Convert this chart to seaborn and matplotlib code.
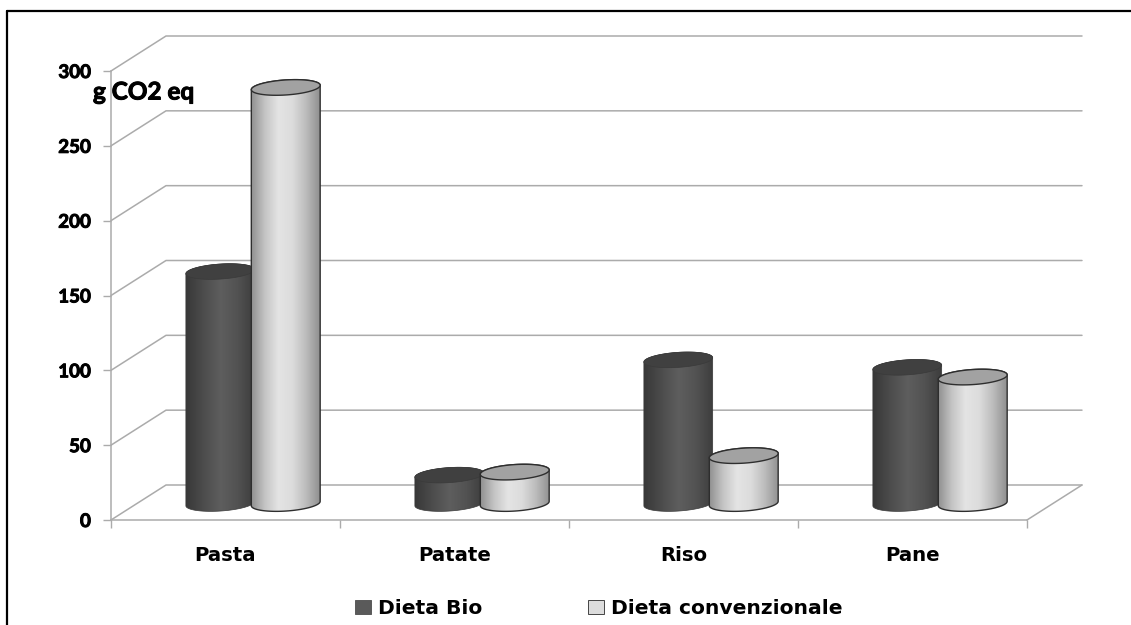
import numpy as np
import pandas as pd
import matplotlib
matplotlib.use("Agg")
import matplotlib.pyplot as plt
import matplotlib.patheffects as pe
from matplotlib.colors import LinearSegmentedColormap
from matplotlib.lines import Line2D
from matplotlib.patches import PathPatch
from matplotlib.path import Path
import seaborn as sns

foods = ["Pasta", "Patate", "Riso", "Pane"]
diet_bio = [155, 19, 96, 91]
diet_conv = [278, 21, 32, 84.5]
diet_names = ["Dieta Bio", "Dieta convenzionale"]
y_ticks = [0, 50, 100, 150, 200, 250, 300]

W, H = 1131, 625
PX_LEFT, PX_RIGHT = 111, 1027
PX_Y0, PX_Y300 = 520, 71
DEPTH_X, DEPTH_Y = 55, 35
SX = (PX_RIGHT - PX_LEFT) / 4
SY = (PX_Y0 - PX_Y300) / 300

sns.set_theme(style="white")
plt.rcParams["font.family"] = ["Lato", "DejaVu Sans"]

# Lato renders light at these sizes, so its labels get a thin outline for weight
HEAVY = [pe.withStroke(linewidth=0.7, foreground="black")]

fig = plt.figure(figsize=(W / 100, H / 100), dpi=100, facecolor="white")
ax = fig.add_axes([PX_LEFT / W, 1 - PX_Y0 / H,
                   (PX_RIGHT - PX_LEFT) / W, (PX_Y0 - PX_Y300) / H])
ax.patch.set_alpha(0)

df = pd.DataFrame({
    "Alimento": foods * 2,
    "g": diet_bio + diet_conv,
    "Dieta": [diet_names[0]] * 4 + [diet_names[1]] * 4,
})
sns.barplot(data=df, x="Alimento", y="g", hue="Dieta", order=foods,
            hue_order=diet_names, palette=["#5a5a5a", "#dcdcdc"],
            width=0.572, gap=0, saturation=1, ax=ax)

ax.set_xlim(-0.5, 3.5)
ax.set_ylim(0, 300)
ax.set_xlabel("")
ax.set_ylabel("")

# Perspective box: back wall lines, side lines and the floor edge
GRID = "#ababab"
ddx, ddy = DEPTH_X / SX, DEPTH_Y / SY
for v in y_ticks:
    ax.plot([-0.5, -0.5 + ddx, 3.5 + ddx], [v, v + ddy, v + ddy],
            color=GRID, lw=1.1, clip_on=False, zorder=1)
ax.plot([3.5, 3.5 + ddx], [0, ddy], color=GRID, lw=1.1, clip_on=False, zorder=1)

for side in ("top", "right"):
    ax.spines[side].set_visible(False)
for side in ("left", "bottom"):
    ax.spines[side].set_color(GRID)
    ax.spines[side].set_linewidth(1.1)

ax.set_yticks(y_ticks)
ax.set_yticklabels([str(v) for v in y_ticks], fontsize=13.5, color="black",
                   family=["Lato", "DejaVu Sans"], weight="bold")
for label in ax.get_yticklabels():
    label.set_path_effects(HEAVY)
ax.tick_params(axis="y", length=5.5, width=1, color=GRID, pad=9, left=True)

ax.set_xticks(np.arange(-0.5, 4, 1))
ax.set_xticklabels([])
ax.set_xticks(range(len(foods)), minor=True)
ax.set_xticklabels(foods, minor=True, fontsize=14.2, fontweight="bold",
                   family="DejaVu Sans", color="black")
ax.tick_params(axis="x", which="major", length=5.5, width=1, color=GRID, bottom=True)
ax.tick_params(axis="x", which="minor", length=0, pad=19)


def ellipse(cx, cy, a, b, tilt, t):
    """Tilted ellipse outline, returned in data units; a and b are in pixels."""
    ex = a * np.cos(t) * np.cos(tilt) - b * np.sin(t) * np.sin(tilt)
    ey = a * np.cos(t) * np.sin(tilt) + b * np.sin(t) * np.cos(tilt)
    return np.column_stack([cx + ex / SX, cy + ey / SY])


def cylinder(cx, value, cmap, top_color, edge, lw, z):
    """Shaded cylinder standing on the floor, with a tilted elliptic cap."""
    a, b, tilt = 34.5, 7.5, np.radians(3.8)
    base = 11.0
    top = base + value
    t0 = np.arctan(-(b / a) * np.tan(tilt))
    front = np.linspace(t0 + np.pi, t0 + 2 * np.pi, 60)
    back = np.linspace(t0, t0 + np.pi, 60)
    pts = np.vstack([ellipse(cx, base, a, b, tilt, front),
                     ellipse(cx, top, a, b, tilt, back)])
    wall = PathPatch(Path(np.vstack([pts, pts[0]])), facecolor="none",
                     edgecolor=edge, lw=lw, zorder=z + 0.1, clip_on=False)
    ax.add_patch(wall)
    grad = np.linspace(0, 1, 256).reshape(1, -1)
    im = ax.imshow(grad, cmap=cmap, aspect="auto", zorder=z, vmin=0, vmax=1,
                   extent=[cx - a / SX, cx + a / SX, base - 2 * b / SY, top + 2 * b / SY],
                   interpolation="bilinear")
    im.set_clip_path(wall.get_path(), ax.transData)
    cap = ellipse(cx, top, a, b, tilt, np.linspace(0, 2 * np.pi, 120))
    ax.add_patch(PathPatch(Path(cap), facecolor=top_color, edgecolor=edge, lw=lw,
                           zorder=z + 0.2, clip_on=False))


dark_map = LinearSegmentedColormap.from_list(
    "dark", ["#383838", "#4c4c4c", "#5e5e5e", "#525252", "#3c3c3c"])
light_map = LinearSegmentedColormap.from_list(
    "light", ["#8f8f8f", "#c4c4c4", "#e4e4e4", "#dcdcdc", "#bcbcbc", "#909090"])

# Replace each flat bar with a cylinder at the same position and height
GROUP_SHIFT = 0.5 * DEPTH_X / SX
n = len(foods)
bars = list(ax.patches)[:2 * n]
for i, bar in enumerate(bars):
    cx = bar.get_x() + bar.get_width() / 2 + GROUP_SHIFT
    value = bar.get_height()
    bar.set_visible(False)
    if i < n:
        cylinder(cx, value, dark_map, "#404040", "#3a3a3a", 0.5, 3 + i)
    else:
        cylinder(cx, value, light_map, "#a2a2a2", "#2e2e2e", 1.0, 8 + i)

ax.set_xlim(-0.5, 3.5)
ax.set_ylim(0, 300)

# Unit label beside the vertical axis
fig.text(93 / W, 1 - 92 / H, "g CO2 eq", fontsize=17.5, fontweight="bold",
         family=["Lato", "DejaVu Sans"], color="black", ha="left", va="center",
         path_effects=HEAVY)

# Legend along the bottom edge
handles, labels = ax.get_legend_handles_labels()
ax.get_legend().remove()
for h, c in zip(handles, ("#5a5a5a", "#dcdcdc")):
    h.set_visible(True)
    h.set_alpha(1)
    h.set_facecolor(c)
    h.set_edgecolor("#444444" if c == "#dcdcdc" else "#5a5a5a")
    h.set_linewidth(0.7)
fig.legend(handles, labels, ncols=2, frameon=False, loc="center left",
           bbox_to_anchor=(355 / W, 1 - 609 / H), borderpad=0, borderaxespad=0,
           handlelength=0.8, handleheight=0.67, handletextpad=0.35,
           columnspacing=5.2, labelcolor="black",
           prop={"family": "DejaVu Sans", "weight": "bold", "size": 14.6})

# Border around the chart (top and left edges)
for xs, ys in (((7, W), (11, 11)), ((7, 7), (11, H))):
    fig.add_artist(Line2D([x / W for x in xs], [1 - y / H for y in ys],
                          color="black", lw=1.6))

fig.savefig("out.png", dpi=100, facecolor="white")
